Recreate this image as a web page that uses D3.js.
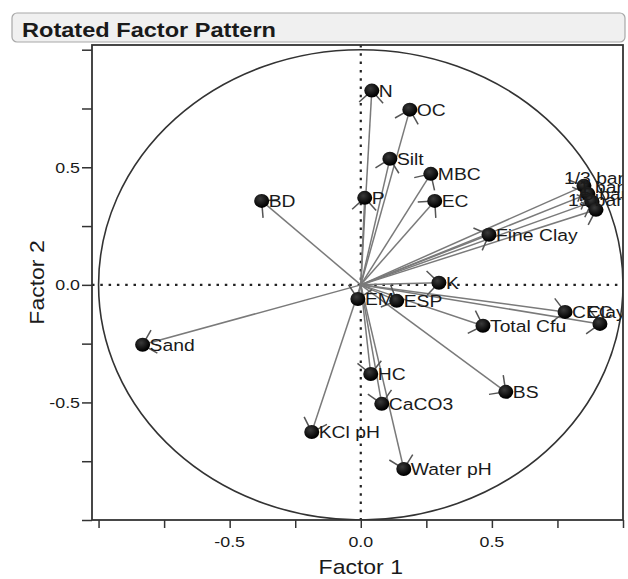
<!DOCTYPE html>
<html>
<head>
<meta charset="utf-8">
<script src="https://cdn.jsdelivr.net/npm/d3@7"></script>
<style>
  body { margin: 0; background: #fff; }
  text { font-family: "Liberation Sans", Arial, sans-serif; fill: #1a1a1a; }
</style>
</head>
<body>
<svg id="chart" width="628" height="579"></svg>
<script>
// Rotated factor loadings
const variables = ["N", "OC", "Silt", "MBC", "P", "EC", "BD", "Fine Clay", "K", "EM", "ESP",
  "Total Cfu", "Sand", "HC", "CaCO3", "BS", "KCl pH", "Water pH", "CEC", "Clay",
  "1/3 bar", "1 bar", "5 bar", "15 bar"];
const factor1 = [0.042, 0.187, 0.111, 0.267, 0.015, 0.282, -0.378, 0.489, 0.298, -0.011, 0.137,
  0.466, -0.832, 0.038, 0.080, 0.553, -0.187, 0.164, 0.779, 0.912,
  0.851, 0.866, 0.882, 0.897];
const factor2 = [0.826, 0.745, 0.536, 0.472, 0.370, 0.357, 0.357, 0.213, 0.009, -0.060, -0.068,
  -0.174, -0.255, -0.379, -0.506, -0.455, -0.626, -0.783, -0.115, -0.166,
  0.421, 0.387, 0.353, 0.319];

// axis ticks
const tickValues = [-1, -0.75, -0.5, -0.25, 0, 0.25, 0.5, 0.75, 1];
const tickLabels = ["", "", "-0.5", "", "0.0", "", "0.5", "", ""];

// label nudges where SAS moved the labels around (pixels)
const nudge = {
  "Clay": [-13, -12],
  "1/3 bar": [-20, -8],
  "1 bar": [-9, -7],
  "5 bar": [-9, -8],
  "15 bar": [-28, -10]
};

const svg = d3.select("#chart");
const stretch = 1.15;   // the picture is a bit wider than the fonts

// frame
const frame = {left: 92, right: 623, top: 45, bottom: 520};
const x = d3.scaleLinear().domain([-1.025, 1.0]).range([frame.left, frame.right]);
const y = d3.scaleLinear().domain([-1.0, 1.02]).range([frame.bottom, frame.top]);

// header bar
svg.append("rect")
  .attr("x", 12).attr("y", 13).attr("width", 613).attr("height", 29)
  .attr("rx", 5)
  .attr("fill", "#f0f0f0").attr("stroke", "#a8a8a8").attr("stroke-width", 1.2);
svg.append("text")
  .attr("transform", "translate(22,37) scale(" + stretch + ",1)")
  .attr("font-size", 20.5).attr("font-weight", "bold")
  .text("Rotated Factor Pattern");

// gradient for the balls
const defs = svg.append("defs");
const grad = defs.append("radialGradient").attr("id", "ball")
  .attr("cx", "40%").attr("cy", "35%").attr("r", "60%");
grad.append("stop").attr("offset", "0%").attr("stop-color", "#3a3a3a");
grad.append("stop").attr("offset", "100%").attr("stop-color", "#000");
defs.append("clipPath").attr("id", "clip").append("rect")
  .attr("x", frame.left).attr("y", frame.top)
  .attr("width", frame.right - frame.left).attr("height", frame.bottom - frame.top);

// axes
const xAxis = d3.axisBottom(x).tickValues(tickValues).tickSize(8).tickFormat("");
const yAxis = d3.axisLeft(y).tickValues(tickValues).tickSize(10).tickFormat("");

const gx = svg.append("g").attr("transform", "translate(0," + frame.bottom + ")").call(xAxis);
const gy = svg.append("g").attr("transform", "translate(" + frame.left + ",0)").call(yAxis);
gx.select(".domain").remove();
gy.select(".domain").remove();
svg.selectAll(".tick line").attr("stroke", "#333").attr("stroke-width", 1.5);

// tick labels
tickValues.forEach(function(v, i) {
  if (!tickLabels[i]) return;
  svg.append("text")
    .attr("transform", "translate(" + x(v) + "," + 547 + ") scale(" + stretch + ",1)")
    .attr("text-anchor", "middle").attr("font-size", 15.5).attr("fill", "#333")
    .text(tickLabels[i]);
  svg.append("text")
    .attr("transform", "translate(80," + (y(v) + 5.5) + ") scale(" + stretch + ",1)")
    .attr("text-anchor", "end").attr("font-size", 15.5).attr("fill", "#333")
    .text(tickLabels[i]);
});

// axis titles
svg.append("text")
  .attr("transform", "translate(" + x(0) + ",574) scale(" + stretch + ",1)")
  .attr("text-anchor", "middle").attr("font-size", 20)
  .text("Factor 1");
svg.append("text")
  .attr("transform", "translate(44," + ((frame.top + frame.bottom) / 2) + ") rotate(-90) scale(" + stretch + ",1)")
  .attr("text-anchor", "middle").attr("font-size", 20)
  .text("Factor 2");

// plot area
const plot = svg.append("g").attr("clip-path", "url(#clip)");

// unit circle
plot.append("ellipse")
  .attr("cx", x(0)).attr("cy", y(0))
  .attr("rx", x(1) - x(0)).attr("ry", y(0) - y(1))
  .attr("fill", "none").attr("stroke", "#333").attr("stroke-width", 1.6);

// reference lines
plot.append("line")
  .attr("x1", x(0)).attr("x2", x(0)).attr("y1", frame.top).attr("y2", frame.bottom)
  .attr("stroke", "#222").attr("stroke-width", 2.2).attr("stroke-dasharray", "2.5,5.8");
plot.append("line")
  .attr("x1", frame.left).attr("x2", frame.right).attr("y1", y(0)).attr("y2", y(0))
  .attr("stroke", "#222").attr("stroke-width", 2.2).attr("stroke-dasharray", "2.5,5.8");

const data = variables.map(function(name, i) {
  return {name: name, px: x(factor1[i]), py: y(factor2[i])};
});

// vectors from the origin
plot.selectAll(".shaft").data(data).enter().append("line")
  .attr("class", "shaft")
  .attr("x1", x(0)).attr("y1", y(0))
  .attr("x2", d => d.px).attr("y2", d => d.py)
  .attr("stroke", "#7a7a7a").attr("stroke-width", 1.5);

// arrow heads
const barbLen = 17, barbAngle = Math.PI / 4;
data.forEach(function(d) {
  const a = Math.atan2(d.py - y(0), d.px - x(0));
  [-1, 1].forEach(function(s) {
    plot.append("line")
      .attr("x1", d.px).attr("y1", d.py)
      .attr("x2", d.px - barbLen * Math.cos(a + s * barbAngle))
      .attr("y2", d.py - barbLen * Math.sin(a + s * barbAngle))
      .attr("stroke", "#555").attr("stroke-width", 1.5);
  });
});

// balls
plot.selectAll(".ball").data(data).enter().append("ellipse")
  .attr("class", "ball")
  .attr("cx", d => d.px).attr("cy", d => d.py)
  .attr("rx", 7.5).attr("ry", 7)
  .attr("fill", "url(#ball)");

// labels
plot.selectAll(".lab").data(data).enter().append("text")
  .attr("class", "lab")
  .attr("transform", function(d) {
    const n = nudge[d.name] || [7, 0];
    return "translate(" + (d.px + n[0]) + "," + (d.py + n[1] + 6) + ") scale(" + stretch + ",1)";
  })
  .attr("font-size", 16.8)
  .text(d => d.name);

// frame
svg.append("rect")
  .attr("x", frame.left).attr("y", frame.top)
  .attr("width", frame.right - frame.left).attr("height", frame.bottom - frame.top)
  .attr("fill", "none").attr("stroke", "#333").attr("stroke-width", 1.8);
</script>
</body>
</html>
